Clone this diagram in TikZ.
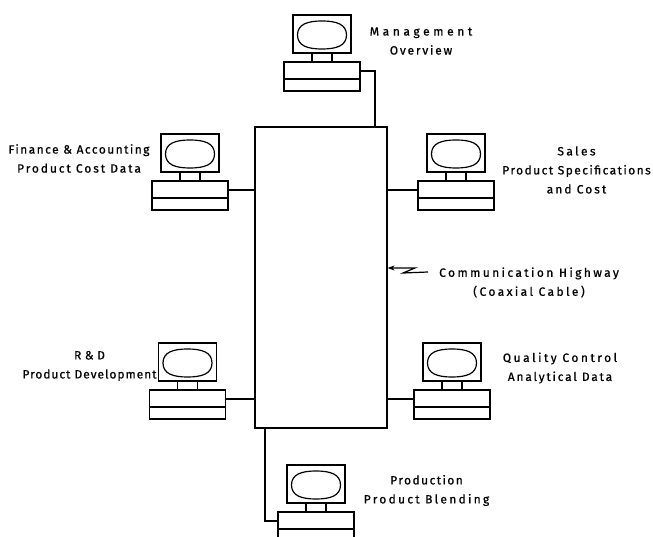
\documentclass[tikz,border=0pt]{standalone}
\usepackage{fontspec}
\usetikzlibrary{arrows.meta}
\setmainfont[LetterSpace=12,FakeBold=0.7]{Fira Sans}
\newcommand{\spaced}[2]{{\addfontfeature{LetterSpace=#1}#2}}
\tikzset{
  line/.style={line width=1.2pt},
  lbl/.style={font=\fontsize{12}{19}\selectfont, align=center, inner sep=0pt},
  terminal/.pic={
    \draw[line] (-29,-47) rectangle (29,-9);
    % screen with bulging sides
    \draw[line] (-24.5,-27) .. controls (-24.5,-38) and (-14,-41) .. (0,-41) .. controls (14,-41) and (24.5,-38) .. (24.5,-27)
      .. controls (24.5,-16) and (14,-13) .. (0,-13) .. controls (-14,-13) and (-24.5,-16) .. (-24.5,-27) -- cycle;
    \draw[line] (-10,-9) -- (-10,0) (10,-9) -- (10,0);
    \node[draw, line, minimum width=76pt, minimum height=29pt, inner sep=0pt] (-base) at (0,14.5) {};
    \draw[line] (-38,17) -- (38,17);
    \coordinate (-w) at (-38,9);
    \coordinate (-e) at (38,9);
  }
}
\begin{document}
\begin{tikzpicture}[>={Stealth[length=7pt,width=5pt]}, x=1pt, y=-1pt]
  \useasboundingbox (0,0) rectangle (653,537);
  \clip (0,0) rectangle (653,537);
  \node[draw, line, minimum width=132pt, minimum height=301pt, inner sep=0pt] (hub) at (321,277.5) {};
  \foreach \name/\x/\y in {mgmt/322/62, finance/190/181, sales/456/181, rnd/187.5/390, quality/452/390, prod/316/512}
    \path (\x,\y) pic (\name) {terminal};
  % links to the highway
  \coordinate (top) at (375,127);
  \coordinate (bottom) at (265,428);
  \draw[line] (mgmt-e) -| (top);
  \draw[line] (bottom) |- (prod-w);
  \foreach \name in {finance, rnd}
    \draw[line] (\name-e) -- (\name-e -| hub.west);
  \foreach \name in {sales, quality}
    \draw[line] (\name-w) -- (\name-w -| hub.east);
  % labels
  \node[lbl] (mgmtlbl) at (421,41) {\spaced{30}{Management}\\\spaced{15}{Overview}};
  \node[lbl] (financelbl) at (79,158.5) {Finance \& Accounting\\\spaced{16}{Product Cost Data}};
  \node[lbl] (saleslbl) at (576.5,170) {\spaced{20}{Sales}\\Product Specifications\\\spaced{17}{and Cost}};
  \node[lbl] (commlbl) at (529,282.5) {\spaced{20}{Communication Highway}\\\spaced{20}{(Coaxial Cable)}};
  \node[lbl] (rndlbl) at (89.5,366) {\spaced{30}{R\&D}\\\spaced{8}{Product Development}};
  \node[lbl] (qualitylbl) at (560,368) {\spaced{21}{Quality Control}\\\spaced{15}{Analytical Data}};
  \node[lbl] (prodlbl) at (426.5,490.5) {Production\\\spaced{19}{Product Blending}};
  % pointer with a kink
  \coordinate (tail) at (428,272);
  \coordinate (kinka) at (403,273);
  \coordinate (kinkb) at (415,268);
  \draw[line, ->] (tail) -- (kinka) -- (kinkb) -- (kinkb -| hub.east);
\end{tikzpicture}
\end{document}
